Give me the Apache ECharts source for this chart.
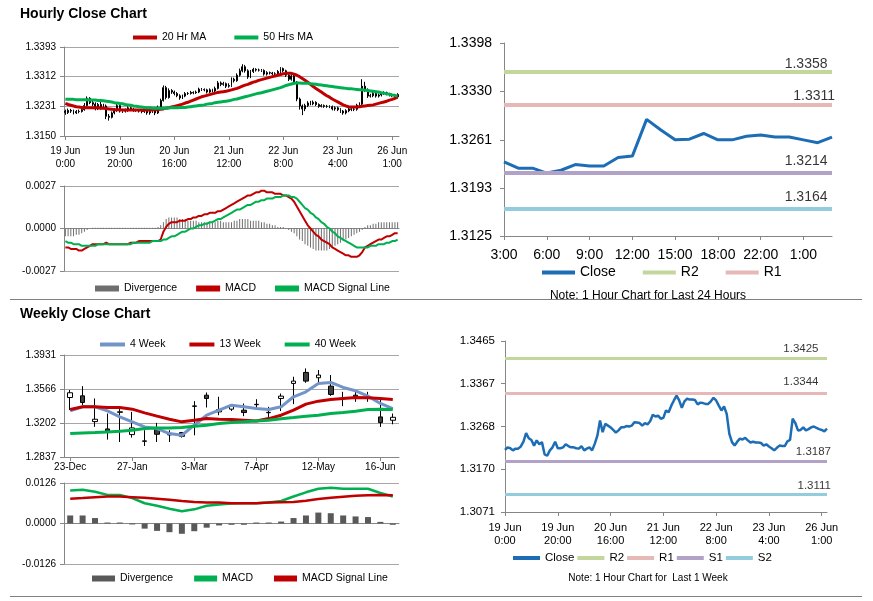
<!DOCTYPE html>
<html><head><meta charset="utf-8">
<script src="https://cdn.jsdelivr.net/npm/echarts@6/dist/echarts.min.js"></script>
<style>html,body{margin:0;padding:0;background:#fff}#c{width:873px;height:601px}</style>
</head><body><div id="c"></div>
<script>
const FONT = '"Liberation Sans", Arial, sans-serif';

// ---------- Hourly (last week) data ----------
const hourClose = [
1.3214,1.3220,1.3218,1.3213,1.3217,1.3217,1.3222,1.3233,1.3253,1.3241,
1.3237,1.3224,1.3236,1.3227,1.3232,1.3204,1.3201,1.3213,1.3220,1.3233,
1.3218,1.3218,1.3220,1.3227,1.3223,1.3220,1.3220,1.3218,1.3217,1.3223,
1.3213,1.3217,1.3220,1.3213,1.3228,1.3247,1.3282,1.3255,1.3274,1.3270,
1.3266,1.3260,1.3254,1.3259,1.3266,1.3266,1.3269,1.3268,1.3270,1.3278,
1.3277,1.3276,1.3270,1.3276,1.3273,1.3280,1.3295,1.3291,1.3293,1.3286,
1.3288,1.3305,1.3301,1.3316,1.3328,1.3339,1.3328,1.3311,1.3326,1.3332,
1.3330,1.3330,1.3329,1.3319,1.3323,1.3322,1.3320,1.3320,1.3326,1.3334,
1.3328,1.3316,1.3305,1.3314,1.3297,1.3251,1.3232,1.3224,1.3233,1.3240,
1.3238,1.3242,1.3236,1.3231,1.3233,1.3231,1.3231,1.3230,1.3224,1.3227,
1.3222,1.3218,1.3213,1.3219,1.3224,1.3223,1.3223,1.3234,1.3237,1.3286,
1.3276,1.3259,1.3260,1.3266,1.3259,1.3262,1.3266,1.3268,1.3265,1.3262,
1.3260,1.3257,1.3263];
const hourOpen = [
1.3218,1.3214,1.3220,1.3218,1.3213,1.3217,1.3217,1.3222,1.3233,1.3253,
1.3241,1.3237,1.3224,1.3236,1.3227,1.3232,1.3204,1.3201,1.3213,1.3220,
1.3233,1.3218,1.3218,1.3220,1.3227,1.3223,1.3220,1.3220,1.3218,1.3217,
1.3223,1.3213,1.3217,1.3220,1.3213,1.3228,1.3247,1.3282,1.3255,1.3274,
1.3270,1.3266,1.3260,1.3254,1.3259,1.3266,1.3266,1.3269,1.3268,1.3270,
1.3278,1.3277,1.3276,1.3270,1.3276,1.3273,1.3280,1.3295,1.3291,1.3293,
1.3286,1.3288,1.3305,1.3301,1.3316,1.3328,1.3339,1.3328,1.3311,1.3326,
1.3332,1.3330,1.3330,1.3329,1.3319,1.3323,1.3322,1.3320,1.3320,1.3326,
1.3334,1.3328,1.3316,1.3305,1.3314,1.3297,1.3251,1.3232,1.3224,1.3233,
1.3240,1.3238,1.3242,1.3236,1.3231,1.3233,1.3231,1.3231,1.3230,1.3224,
1.3227,1.3222,1.3218,1.3213,1.3219,1.3224,1.3223,1.3223,1.3234,1.3237,
1.3286,1.3276,1.3259,1.3260,1.3266,1.3259,1.3262,1.3266,1.3268,1.3265,
1.3262,1.3260,1.3257];
const hourHigh = [
1.3222,1.3225,1.3224,1.3222,1.3221,1.3222,1.3227,1.3240,1.3258,1.3256,
1.3246,1.3242,1.3240,1.3244,1.3238,1.3236,1.3210,1.3217,1.3226,1.3238,
1.3236,1.3224,1.3225,1.3231,1.3230,1.3227,1.3224,1.3223,1.3222,1.3227,
1.3226,1.3221,1.3224,1.3223,1.3233,1.3252,1.3288,1.3287,1.3280,1.3278,
1.3274,1.3270,1.3264,1.3263,1.3270,1.3270,1.3273,1.3272,1.3274,1.3282,
1.3281,1.3280,1.3279,1.3280,1.3279,1.3285,1.3300,1.3299,1.3298,1.3296,
1.3294,1.3310,1.3309,1.3321,1.3334,1.3346,1.3344,1.3332,1.3330,1.3336,
1.3335,1.3334,1.3333,1.3332,1.3327,1.3326,1.3325,1.3324,1.3330,1.3338,
1.3337,1.3331,1.3319,1.3318,1.3317,1.3300,1.3255,1.3236,1.3238,1.3245,
1.3246,1.3247,1.3245,1.3239,1.3237,1.3236,1.3235,1.3234,1.3233,1.3231,
1.3230,1.3226,1.3221,1.3223,1.3228,1.3228,1.3227,1.3238,1.3242,1.3305,
1.3298,1.3280,1.3265,1.3270,1.3269,1.3266,1.3270,1.3272,1.3271,1.3268,
1.3266,1.3264,1.3267];
const hourLow = [
1.3208,1.3210,1.3213,1.3209,1.3210,1.3212,1.3214,1.3219,1.3230,1.3237,
1.3232,1.3220,1.3221,1.3222,1.3224,1.3196,1.3192,1.3198,1.3209,1.3216,
1.3214,1.3213,1.3214,1.3216,1.3219,1.3216,1.3216,1.3214,1.3212,1.3213,
1.3208,1.3208,1.3213,1.3207,1.3210,1.3225,1.3244,1.3250,1.3252,1.3265,
1.3261,1.3256,1.3249,1.3251,1.3256,1.3262,1.3263,1.3264,1.3265,1.3267,
1.3273,1.3272,1.3266,1.3267,1.3269,1.3270,1.3277,1.3286,1.3287,1.3281,
1.3282,1.3284,1.3296,1.3298,1.3312,1.3324,1.3323,1.3306,1.3308,1.3322,
1.3326,1.3326,1.3325,1.3315,1.3315,1.3318,1.3316,1.3316,1.3317,1.3322,
1.3324,1.3311,1.3300,1.3301,1.3290,1.3245,1.3222,1.3207,1.3218,1.3229,
1.3234,1.3234,1.3232,1.3227,1.3228,1.3227,1.3227,1.3226,1.3220,1.3219,
1.3218,1.3213,1.3208,1.3209,1.3215,1.3218,1.3218,1.3219,1.3230,1.3233,
1.3270,1.3254,1.3255,1.3256,1.3255,1.3255,1.3258,1.3262,1.3261,1.3258,
1.3256,1.3253,1.3253];
const hourMA20 = [
1.3239,1.3236,1.3234,1.3232,1.3230,1.3229,1.3228,1.3227,1.3227,1.3227,
1.3227,1.3227,1.3227,1.3226,1.3226,1.3225,1.3224,1.3223,1.3222,1.3222,
1.3222,1.3221,1.3221,1.3221,1.3221,1.3221,1.3221,1.3221,1.3221,1.3221,
1.3221,1.3221,1.3221,1.3222,1.3222,1.3223,1.3224,1.3226,1.3227,1.3229,
1.3231,1.3233,1.3235,1.3237,1.3240,1.3242,1.3245,1.3248,1.3251,1.3254,
1.3257,1.3259,1.3261,1.3263,1.3265,1.3267,1.3269,1.3270,1.3271,1.3272,
1.3274,1.3276,1.3278,1.3280,1.3283,1.3286,1.3289,1.3291,1.3294,1.3297,
1.3299,1.3302,1.3304,1.3306,1.3308,1.3310,1.3312,1.3314,1.3316,1.3318,
1.3320,1.3321,1.3321,1.3321,1.3319,1.3316,1.3312,1.3307,1.3302,1.3297,
1.3291,1.3285,1.3280,1.3275,1.3270,1.3265,1.3260,1.3256,1.3251,1.3247,
1.3243,1.3239,1.3235,1.3232,1.3230,1.3229,1.3229,1.3229,1.3230,1.3231,
1.3232,1.3233,1.3234,1.3235,1.3237,1.3239,1.3241,1.3243,1.3245,1.3248,
1.3250,1.3253,1.3256];
const hourMA50 = [
1.3250,1.3250,1.3250,1.3250,1.3249,1.3249,1.3249,1.3249,1.3249,1.3248,
1.3248,1.3248,1.3247,1.3247,1.3246,1.3245,1.3244,1.3243,1.3241,1.3240,
1.3239,1.3238,1.3236,1.3235,1.3234,1.3232,1.3231,1.3230,1.3229,1.3228,
1.3227,1.3227,1.3226,1.3226,1.3226,1.3226,1.3226,1.3226,1.3227,1.3227,
1.3227,1.3227,1.3228,1.3228,1.3228,1.3229,1.3230,1.3231,1.3232,1.3233,
1.3234,1.3235,1.3237,1.3238,1.3239,1.3241,1.3242,1.3243,1.3244,1.3245,
1.3246,1.3248,1.3250,1.3251,1.3253,1.3255,1.3257,1.3259,1.3261,1.3263,
1.3265,1.3267,1.3268,1.3270,1.3272,1.3274,1.3276,1.3278,1.3280,1.3282,
1.3285,1.3288,1.3290,1.3292,1.3294,1.3295,1.3295,1.3294,1.3294,1.3294,
1.3293,1.3292,1.3291,1.3290,1.3289,1.3288,1.3287,1.3286,1.3285,1.3284,
1.3283,1.3282,1.3281,1.3280,1.3279,1.3279,1.3278,1.3277,1.3276,1.3276,
1.3275,1.3274,1.3273,1.3272,1.3271,1.3270,1.3268,1.3267,1.3265,1.3264,
1.3262,1.3261,1.3259];
const hourMACD = [
-0.0012,-0.0012,-0.0013,-0.0013,-0.0013,-0.0014,-0.0014,-0.0013,-0.0012,-0.0011,
-0.0010,-0.0010,-0.0010,-0.0010,-0.0010,-0.0009,-0.0010,-0.0010,-0.0010,-0.0010,
-0.0010,-0.0010,-0.0010,-0.0010,-0.0009,-0.0009,-0.0009,-0.0008,-0.0008,-0.0008,
-0.0008,-0.0008,-0.0008,-0.0008,-0.0008,-0.0007,-0.0002,0.0001,0.0003,0.0004,
0.0004,0.0004,0.0005,0.0005,0.0005,0.0006,0.0006,0.0007,0.0007,0.0008,
0.0008,0.0009,0.0009,0.0010,0.0010,0.0010,0.0011,0.0011,0.0012,0.0013,
0.0014,0.0015,0.0016,0.0017,0.0018,0.0019,0.0020,0.0021,0.0021,0.0022,
0.0023,0.0023,0.0024,0.0024,0.0023,0.0023,0.0023,0.0022,0.0022,0.0022,
0.0021,0.0021,0.0020,0.0019,0.0017,0.0014,0.0011,0.0008,0.0005,0.0002,
0.0000,-0.0002,-0.0004,-0.0005,-0.0007,-0.0008,-0.0009,-0.0010,-0.0012,-0.0013,
-0.0014,-0.0015,-0.0016,-0.0017,-0.0017,-0.0018,-0.0018,-0.0018,-0.0017,-0.0015,
-0.0012,-0.0011,-0.0010,-0.0009,-0.0008,-0.0007,-0.0007,-0.0006,-0.0005,-0.0005,
-0.0004,-0.0003,-0.0003];
const hourSignal = [
-0.0008,-0.0009,-0.0009,-0.0010,-0.0010,-0.0010,-0.0011,-0.0011,-0.0011,-0.0011,
-0.0011,-0.0011,-0.0010,-0.0010,-0.0010,-0.0010,-0.0010,-0.0010,-0.0010,-0.0010,
-0.0010,-0.0010,-0.0010,-0.0010,-0.0010,-0.0009,-0.0009,-0.0009,-0.0009,-0.0009,
-0.0009,-0.0009,-0.0008,-0.0008,-0.0008,-0.0008,-0.0007,-0.0007,-0.0006,-0.0005,
-0.0005,-0.0004,-0.0003,-0.0002,-0.0002,-0.0001,0.0000,0.0000,0.0001,0.0002,
0.0002,0.0003,0.0003,0.0004,0.0004,0.0005,0.0006,0.0006,0.0007,0.0008,
0.0009,0.0010,0.0011,0.0012,0.0012,0.0013,0.0014,0.0015,0.0015,0.0016,
0.0017,0.0017,0.0018,0.0018,0.0019,0.0019,0.0019,0.0020,0.0020,0.0020,
0.0021,0.0021,0.0021,0.0020,0.0020,0.0019,0.0017,0.0015,0.0013,0.0012,
0.0010,0.0009,0.0007,0.0006,0.0004,0.0003,0.0001,0.0000,-0.0002,-0.0003,
-0.0005,-0.0006,-0.0007,-0.0008,-0.0009,-0.0010,-0.0011,-0.0012,-0.0012,-0.0012,
-0.0012,-0.0012,-0.0011,-0.0011,-0.0011,-0.0010,-0.0010,-0.0010,-0.0009,-0.0009,
-0.0008,-0.0008,-0.0007];
const hourDiv = [
-0.0005,-0.0005,-0.0005,-0.0005,-0.0004,-0.0004,-0.0003,-0.0002,-0.0001,0.0000,
0.00005,0.00005,0.00005,0.00005,0.00005,0.00005,0.00005,0.00005,0.00005,0.00005,
0.00005,0.00005,0.00005,0.00005,0.00005,0.00005,0.00005,0.00005,0.00005,0.00005,
0.00005,0.00005,0.00005,0.00005,0.0001,0.0002,0.0004,0.0006,0.0007,0.0007,
0.0007,0.0007,0.0006,0.0006,0.0006,0.0005,0.0005,0.0005,0.0005,0.0004,
0.0004,0.0004,0.0004,0.0004,0.0004,0.0004,0.0005,0.0005,0.0004,0.0004,
0.0004,0.0004,0.0005,0.0005,0.0006,0.0006,0.0006,0.0006,0.0005,0.0005,
0.0005,0.0005,0.0004,0.0004,0.0003,0.0003,0.0002,0.0002,0.0001,0.0001,
0.0001,0.0000,-0.0001,-0.0002,-0.0003,-0.0005,-0.0007,-0.0008,-0.0010,-0.0011,
-0.0012,-0.0013,-0.0014,-0.0014,-0.0014,-0.0014,-0.0014,-0.0013,-0.0012,-0.0011,
-0.0010,-0.0009,-0.0008,-0.0007,-0.0006,-0.0005,-0.0004,-0.0003,-0.0002,-0.0001,
0.0001,0.0002,0.0002,0.0003,0.0003,0.0004,0.0004,0.0004,0.0004,0.0004,
0.0004,0.0004,0.0004];
const hourPriceTicks = [1.3150, 1.3231, 1.3312, 1.3393];
const hourMacdRange = [-0.0027, 0.0027];

// ---------- Last 24 hours ----------
const dayCats = ['3:00','4:00','5:00','6:00','7:00','8:00','9:00','10:00','11:00','12:00','13:00','14:00',
  '15:00','16:00','17:00','18:00','19:00','20:00','22:00','23:00','0:00','1:00','2:00','3:00'];
const dayClose = [1.3230,1.3221,1.3221,1.3214,1.3218,1.3226,1.3224,1.3224,1.3236,1.3238,1.3290,1.3275,
  1.3261,1.3262,1.3270,1.3261,1.3261,1.3266,1.3268,1.3265,1.3265,1.3261,1.3257,1.3265];
const dayTicks = [1.3125, 1.3193, 1.3261, 1.3330, 1.3398];
const levelNames = ['R2','R1','S1','S2'];
const dayLevels = [1.3358, 1.3311, 1.3214, 1.3164];
const weekLevels = [1.3425, 1.3344, 1.3187, 1.3111];
const weekHourTicks = [1.3071, 1.3170, 1.3268, 1.3367, 1.3465];

// ---------- Weekly ----------
const weekDates = ['23-Dec','30-Dec','6-Jan','13-Jan','20-Jan','27-Jan','3-Feb','10-Feb','17-Feb','24-Feb',
  '3-Mar','10-Mar','17-Mar','24-Mar','31-Mar','7-Apr','14-Apr','21-Apr','28-Apr','5-May','12-May','19-May',
  '26-May','2-Jun','9-Jun','16-Jun','23-Jun'];
const wOpen  = [1.3475,1.3493,1.3217,1.3138,1.3316,1.3077,1.3005,1.3131,1.3074,1.3099,1.3380,1.3500,1.3321,1.3350,
  1.3339,1.3398,1.3312,1.3465,1.3626,1.3744,1.3687,1.3597,1.3463,1.3500,1.3473,1.3267,1.3231];
const wClose = [1.3526,1.3422,1.3242,1.3110,1.3322,1.3149,1.3010,1.3081,1.3079,1.3059,1.3385,1.3465,1.3346,1.3382,
  1.3314,1.3402,1.3316,1.3490,1.3651,1.3651,1.3716,1.3508,1.3467,1.3465,1.3477,1.3206,1.3263];
const wLow   = [1.3340,1.3393,1.3160,1.3024,1.2998,1.3045,1.2955,1.2998,1.2998,1.3045,1.3070,1.3368,1.3285,1.3330,
  1.3275,1.3346,1.3249,1.3330,1.3404,1.3633,1.3633,1.3493,1.3382,1.3429,1.3429,1.3160,1.3188];
const wHigh  = [1.3555,1.3597,1.3465,1.3303,1.3382,1.3321,1.3124,1.3203,1.3124,1.3106,1.3436,1.3529,1.3483,1.3404,
  1.3411,1.3457,1.3375,1.3518,1.3698,1.3787,1.3770,1.3716,1.3536,1.3554,1.3536,1.3472,1.3303];
const w4  = [1.3332,1.3375,1.3375,1.3332,1.3267,1.3214,1.3160,1.3142,1.3088,1.3070,1.3178,1.3285,1.3339,1.3393,
  1.3375,1.3357,1.3346,1.3375,1.3483,1.3536,1.3626,1.3637,1.3583,1.3547,1.3490,1.3411,1.3357];
const w13 = [1.3346,1.3375,1.3375,1.3368,1.3368,1.3350,1.3310,1.3275,1.3242,1.3214,1.3232,1.3249,1.3242,1.3239,
  1.3232,1.3224,1.3249,1.3285,1.3339,1.3404,1.3436,1.3454,1.3465,1.3475,1.3472,1.3465,1.3454];
const w40 = [1.3088,1.3095,1.3099,1.3106,1.3113,1.3124,1.3142,1.3149,1.3149,1.3153,1.3167,1.3178,1.3196,1.3206,
  1.3214,1.3224,1.3232,1.3246,1.3260,1.3275,1.3285,1.3303,1.3314,1.3328,1.3346,1.3350,1.3346];
const wMACD = [0.0103,0.0105,0.0099,0.0089,0.0089,0.0079,0.0063,0.0055,0.0046,0.0038,0.0044,0.0055,0.0059,0.0062,
  0.0063,0.0063,0.0065,0.0070,0.0084,0.0097,0.0108,0.0111,0.0108,0.0108,0.0108,0.0095,0.0084];
const wSignal = [0.0077,0.0079,0.0082,0.0084,0.0084,0.0082,0.0080,0.0077,0.0074,0.0070,0.0067,0.0065,0.0065,0.0063,
  0.0063,0.0063,0.0065,0.0066,0.0067,0.0071,0.0076,0.0080,0.0083,0.0086,0.0088,0.0089,0.0088];
const wDiv = [0.0025,0.0025,0.0017,0.0003,0.0003,-0.0003,-0.0016,-0.0023,-0.0027,-0.0032,-0.0024,-0.0013,-0.0006,
  -0.0004,-0.0004,0.0003,0.0003,0.0006,0.0017,0.0025,0.0034,0.0032,0.0025,0.0022,0.0020,0.0005,-0.0004];
const weekPriceTicks = [1.2837, 1.3202, 1.3566, 1.3931];
const weekMacdRange = [-0.0126, 0.0126];

// ---------- category labels for hourly axis ----------
const hourCats = [];
for (let i = 0; i < hourClose.length; i++) {
  if (i < 120) hourCats.push((19 + Math.floor(i / 24)) + ' Jun\n' + (i % 24) + ':00');
  else hourCats.push('26 Jun\n' + (i - 119) + ':00');
}

// ---------- styling ----------
const AX = '#868686', GRID = '#a6a6a6';
const RED = '#c00000', GREEN = '#00b050', BLUE = '#1c6db5', STEEL = '#7394c8';
const LEVEL_COLORS = ['#c3d69b', '#e6b9b8', '#b3a2c7', '#93cddd'];
const f4 = v => Number(v).toFixed(4);

function yAx(gi, min, max, ticks, opt) {
  const o = {
    gridIndex: gi, type: 'value', min: min, max: max,
    axisLine: { show: true, lineStyle: { color: AX } },
    axisTick: { show: true, length: 4, lineStyle: { color: AX } },
    axisLabel: { formatter: f4, color: '#000', fontSize: opt.fs, margin: opt.margin, fontFamily: FONT },
    splitLine: { show: opt.split, lineStyle: { color: GRID, width: 1 } }
  };
  if (ticks) { o.axisTick.customValues = ticks; o.axisLabel.customValues = ticks; }
  else { o.interval = max; }
  return o;
}
function xAx(gi, data, opt) {
  return {
    gridIndex: gi, type: 'category', data: data, boundaryGap: opt.gap,
    axisLine: { show: true, onZero: !!opt.onZero, lineStyle: { color: AX } },
    axisTick: { show: !!opt.labels, interval: opt.interval, length: 4, alignWithLabel: true, lineStyle: { color: AX } },
    axisLabel: { show: !!opt.labels, interval: opt.interval, color: '#000', fontSize: opt.fs, lineHeight: opt.lh,
      margin: opt.margin, fontFamily: FONT },
    splitLine: { show: false }
  };
}
function lineS(name, gi, data, color, width) {
  return { name: name, type: 'line', xAxisIndex: gi, yAxisIndex: gi, data: data, symbol: 'none',
    itemStyle: { color: color }, lineStyle: { color: color, width: width }, z: 3 };
}
function levelS(k, gi, values, width) {
  const c = LEVEL_COLORS[k];
  return { name: levelNames[k], type: 'line', xAxisIndex: gi, yAxisIndex: gi, data: [], symbol: 'none',
    itemStyle: { color: c }, lineStyle: { color: c, width: width },
    markLine: { silent: true, symbol: ['none', 'none'], animation: false, precision: 4,
      data: [{ yAxis: values[k] }],
      lineStyle: { color: c, width: width, type: 'solid' },
      label: { show: false } } };
}
// value labels of the level lines, anchored at the last category of the panel
function levelLabels(gi, lastIndex, values, fs, offsets) {
  return { type: 'scatter', xAxisIndex: gi, yAxisIndex: gi, symbol: 'circle', symbolSize: 1, silent: true, z: 5,
    itemStyle: { color: 'rgba(0,0,0,0)' },
    data: values.map((v, k) => ({ value: [lastIndex, v],
      label: { show: true, position: offsets[k], align: 'right', verticalAlign: 'middle' } })),
    label: { show: true, formatter: p => f4(p.value[1]), color: '#000', fontSize: fs, fontFamily: FONT } };
}
function legend(left, top, w, h, gap, fs, items) {
  return { left: left, top: top, padding: 0, itemWidth: w, itemHeight: h, itemGap: gap, icon: 'rect',
    selectedMode: false, textStyle: { color: '#000', fontSize: fs, lineHeight: Math.round(fs * 1.2), fontFamily: FONT },
    data: items };
}

const series = [];
// Panel 0: hourly candles
series.push({ type: 'candlestick', xAxisIndex: 0, yAxisIndex: 0, barMaxWidth: 2,
  data: hourOpen.map((o, i) => [o, hourClose[i], hourLow[i], hourHigh[i]]),
  itemStyle: { color: '#000', color0: '#000', borderColor: '#000', borderColor0: '#000', borderWidth: 1 } });
series.push(lineS('20 Hr MA', 0, hourMA20, RED, 3));
series.push(lineS('50 Hrs MA', 0, hourMA50, GREEN, 3));
// Panel 1: hourly MACD
series.push({ name: 'Divergence', type: 'bar', xAxisIndex: 1, yAxisIndex: 1, data: hourDiv, barWidth: 1,
  itemStyle: { color: '#6e6e6e' } });
series.push(lineS('MACD', 1, hourMACD, RED, 2));
series.push(lineS('MACD Signal Line', 1, hourSignal, GREEN, 2));
// Panel 2: last 24 hours
for (let k = 0; k < 4; k++) series.push(levelS(k, 2, dayLevels, 4));
series.push(lineS('Close', 2, dayClose, BLUE, 3));
series.push(levelLabels(2, dayCats.length - 1, dayLevels, 14, [[-4, -7], [3.5, -7.5], [-4, -11], [-4, -10.5]]));
// Panel 3: weekly candles
series.push({ type: 'candlestick', xAxisIndex: 3, yAxisIndex: 3, barWidth: 5,
  data: wOpen.map((o, i) => [o, wClose[i], wLow[i], wHigh[i]]),
  itemStyle: { color: '#fff', color0: '#404040', borderColor: '#000', borderColor0: '#000', borderWidth: 1 } });
series.push(lineS('4 Week', 3, w4, STEEL, 3));
series.push(lineS('13 Week', 3, w13, RED, 3));
series.push(lineS('40 Week', 3, w40, GREEN, 3));
// Panel 4: weekly MACD
series.push({ name: 'Divergence', type: 'bar', xAxisIndex: 4, yAxisIndex: 4, data: wDiv, barWidth: 6,
  itemStyle: { color: '#595959' } });
series.push(lineS('MACD', 4, wMACD, GREEN, 2.5));
series.push(lineS('MACD Signal Line', 4, wSignal, RED, 2.5));
// Panel 5: last week hourly close
for (let k = 0; k < 4; k++) series.push(levelS(k, 5, weekLevels, 3));
series.push(lineS('Close', 5, hourClose, BLUE, 2.5));
series.push(levelLabels(5, hourCats.length - 1, weekLevels, 11.5, [[-8, -9], [-8, -11.5], [4.5, -9], [4.5, -8.5]]));

const option = {
  animation: false,
  backgroundColor: '#fff',
  textStyle: { fontFamily: FONT },
  grid: [
    { left: 64, top: 47, width: 335, height: 89 },
    { left: 64, top: 186, width: 335, height: 85 },
    { left: 504, top: 43, width: 328, height: 193 },
    { left: 64, top: 355, width: 335, height: 102 },
    { left: 64, top: 483, width: 335, height: 81 },
    { left: 505, top: 341, width: 322, height: 171 }
  ],
  xAxis: [
    xAx(0, hourCats, { gap: true, labels: true, interval: 19, fs: 10, lh: 13, margin: 9 }),
    xAx(1, hourCats, { gap: true, labels: false, onZero: true }),
    xAx(2, dayCats, { gap: false, labels: true, interval: 2, fs: 14, lh: 16, margin: 11 }),
    xAx(3, weekDates, { gap: true, labels: true, interval: 4, fs: 10, lh: 12, margin: 4 }),
    xAx(4, weekDates, { gap: true, labels: false, onZero: true }),
    xAx(5, hourCats, { gap: false, labels: true, interval: 19, fs: 11, lh: 13, margin: 9 })
  ],
  yAxis: [
    yAx(0, hourPriceTicks[0], hourPriceTicks[3], hourPriceTicks, { fs: 10, margin: 8, split: true }),
    yAx(1, hourMacdRange[0], hourMacdRange[1], null, { fs: 10, margin: 8, split: true }),
    yAx(2, dayTicks[0], dayTicks[4], dayTicks, { fs: 14, margin: 12, split: false }),
    yAx(3, weekPriceTicks[0], weekPriceTicks[3], weekPriceTicks, { fs: 10, margin: 8, split: true }),
    yAx(4, weekMacdRange[0], weekMacdRange[1], null, { fs: 10, margin: 8, split: true }),
    yAx(5, weekHourTicks[0], weekHourTicks[4], weekHourTicks, { fs: 11.5, margin: 10, split: false })
  ],
  legend: [
    legend(133, 31, 24, 4, 28, 10.5, ['20 Hr MA', '50 Hrs MA']),
    legend(95, 282, 24, 6, 19, 10.5, ['Divergence', { name: 'MACD', itemStyle: { color: RED } },
      { name: 'MACD Signal Line', itemStyle: { color: GREEN } }]),
    legend(542, 264, 33, 4, 27, 14, ['Close', 'R2', 'R1']),
    legend(100, 338, 25, 4, 24, 10.5, ['4 Week', '13 Week', '40 Week']),
    legend(92, 572, 23, 6, 21, 10.5, [{ name: 'Divergence', itemStyle: { color: '#595959' } },
      { name: 'MACD', itemStyle: { color: GREEN } }, { name: 'MACD Signal Line', itemStyle: { color: RED } }]),
    legend(513, 551, 27, 4, 3, 11.5, ['Close', 'R2', 'R1', 'S1', 'S2'])
  ],
  graphic: [
    { type: 'text', left: 20, top: 7, style: { text: 'Hourly Close Chart', font: 'bold 14px ' + FONT, fill: '#000' } },
    { type: 'text', left: 20, top: 307, style: { text: 'Weekly Close Chart', font: 'bold 14px ' + FONT, fill: '#000' } },
    { type: 'text', x: 648, y: 296, style: { text: 'Note: 1 Hour Chart for Last 24 Hours', font: '12px ' + FONT,
      fill: '#000', align: 'center', verticalAlign: 'middle' } },
    { type: 'text', x: 648, y: 578, style: { text: 'Note: 1 Hour Chart for  Last 1 Week', font: '10px ' + FONT,
      fill: '#000', align: 'center', verticalAlign: 'middle' } },
    { type: 'line', shape: { x1: 10, y1: 299.5, x2: 862, y2: 299.5 }, style: { stroke: '#808080', lineWidth: 1 }, z: 10 },
    { type: 'line', shape: { x1: 10, y1: 596.5, x2: 862, y2: 596.5 }, style: { stroke: '#808080', lineWidth: 1 }, z: 10 }
  ],
  series: series
};
const chart = echarts.init(document.getElementById('c'), null, { renderer: 'canvas', width: 873, height: 601 });
chart.setOption(option);
</script>
</body></html>
